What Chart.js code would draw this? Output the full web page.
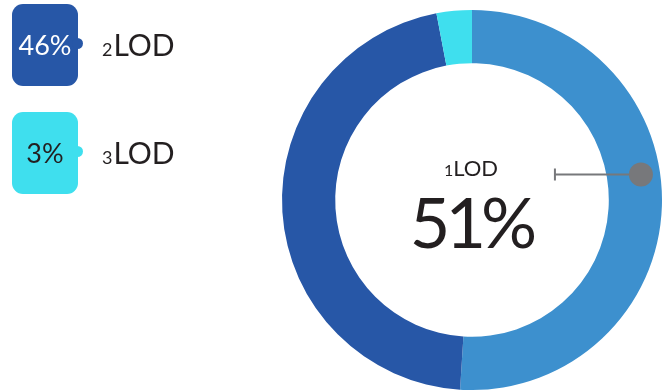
<!DOCTYPE html>
<html>
<head>
    <meta charset="UTF-8">
    <title>LOD Share</title>
    <script src="https://cdn.jsdelivr.net/npm/chart.js"></script>
    <style>
        body { margin: 0; background: #fff; font-family: Lato, "Open Sans", sans-serif; color: #231f20; }
        #wrap { position: relative; width: 664px; height: 390px; overflow: hidden; }
        #chart { position: absolute; left: 0; top: 0; }
        .key { position: absolute; left: 12px; width: 66px; height: 82px; border-radius: 11px; }
        .key .val { position: absolute; left: 0; right: 0; top: 50%; transform: translateY(-52%); text-align: center; font-size: 27px; }
        .key .bump { position: absolute; right: -5px; top: 34px; width: 11px; height: 11px; border-radius: 50%; }
        .name { position: absolute; left: 102px; font-size: 30px; line-height: 1; }
        .name small { font-size: 18px; margin-right: 1px; }
        #center { position: absolute; left: 369px; width: 204px; text-align: center; }
        #center .lbl { position: absolute; left: 0; right: 0; top: 157px; font-size: 22px; line-height: 1; }
        #center .lbl small { font-size: 16px; }
        #center .big { position: absolute; left: 0; right: 0; top: 186px; font-size: 70px; line-height: 1; letter-spacing: -5px; }
    </style>
</head>
<body>
<div id="wrap">
    <canvas id="chart" width="664" height="390"></canvas>
    <div id="legend"></div>
    <div id="center"><div class="lbl"></div><div class="big"></div></div>
</div>

<script>
    // share of each line of defence
    var levels = ['1', '2', '3'];
    var names = ['LOD', 'LOD', 'LOD'];
    var shares = [51, 46, 3];
    var colors = ['#3d90ce', '#2757a7', '#3fdfee'];
    var valueColors = ['#231f20', '#ffffff', '#231f20'];

    // legend: the second and third slices, stacked on the left
    var legendTops = [4, 112];
    var legend = document.getElementById('legend');
    for (var i = 1; i < shares.length; i++) {
        var boxTop = legendTops[i - 1];
        var box = document.createElement('div');
        box.className = 'key';
        box.style.top = boxTop + 'px';
        box.style.background = colors[i];
        box.innerHTML = '<div class="val" style="color:' + valueColors[i] + '">' + shares[i] + '%</div>' +
            '<div class="bump" style="background:' + colors[i] + '"></div>';
        legend.appendChild(box);

        var nameEl = document.createElement('div');
        nameEl.className = 'name';
        nameEl.style.top = (boxTop + 25) + 'px';
        nameEl.innerHTML = '<small>' + levels[i] + '</small>' + names[i];
        legend.appendChild(nameEl);
    }

    // big number in the hole for the first slice
    document.querySelector('#center .lbl').innerHTML = '<small>' + levels[0] + '</small>' + names[0];
    document.querySelector('#center .big').textContent = shares[0] + '%';

    // grey pin pointing at the first slice
    var pinPlugin = {
        id: 'pin',
        afterDatasetsDraw: function (chart) {
            var arc = chart.getDatasetMeta(0).data[0];
            var ctx = chart.ctx;
            var r = arc.innerRadius + (arc.outerRadius - arc.innerRadius) * 0.64;
            var a = -0.15; // radians below the horizontal
            var px = arc.x + r * Math.cos(a);
            var py = arc.y + r * Math.sin(a);
            var endX = px - 86;
            ctx.save();
            ctx.strokeStyle = '#77787b';
            ctx.lineWidth = 2;
            ctx.beginPath();
            ctx.moveTo(px, py);
            ctx.lineTo(endX, py);
            ctx.moveTo(endX, py - 6);
            ctx.lineTo(endX, py + 6);
            ctx.stroke();
            ctx.fillStyle = '#77787b';
            ctx.beginPath();
            ctx.arc(px, py, 12, 0, Math.PI * 2);
            ctx.fill();
            ctx.restore();
        }
    };

    var ctx = document.getElementById('chart').getContext('2d');
    var chart = new Chart(ctx, {
        type: 'doughnut',
        data: {
            labels: levels.map(function (l, i) { return l + names[i]; }),
            datasets: [{
                data: shares,
                backgroundColor: colors,
                borderWidth: 0
            }]
        },
        options: {
            responsive: false,
            animation: false,
            cutout: '72%',
            layout: { padding: { left: 282, right: 2, top: 10, bottom: 0 } },
            plugins: {
                legend: { display: false },
                tooltip: { enabled: false }
            }
        },
        plugins: [pinPlugin]
    });
</script>
</body>
</html>
